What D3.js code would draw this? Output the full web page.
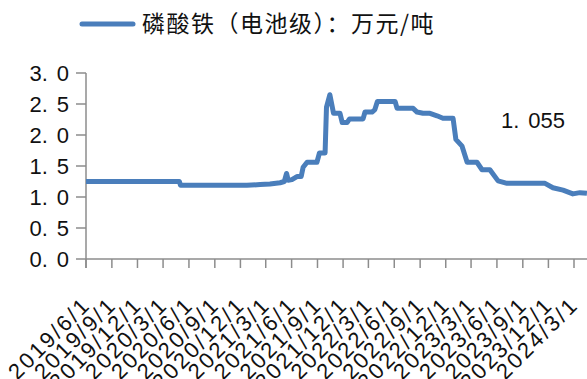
<!DOCTYPE html>
<html>
<head>
<meta charset="utf-8">
<script src="https://cdn.jsdelivr.net/npm/d3@7"></script>
<style>
html,body{margin:0;padding:0;background:#fff;}
svg{display:block;}
</style>
</head>
<body>
<svg id="chart" width="587" height="379"></svg>
<script>
const seriesName = "磷酸铁（电池级）：万元/吨";
const dates = [
"2019-06-01","2020-04-28","2020-05-02","2020-12-24","2021-02-09","2021-03-16","2021-04-21","2021-05-06",
"2021-05-14","2021-05-20","2021-06-02","2021-06-20","2021-07-05","2021-07-12","2021-07-26","2021-08-30",
"2021-09-08","2021-09-28","2021-10-03","2021-10-15","2021-10-28","2021-11-20","2021-11-28","2021-12-15",
"2021-12-24","2022-02-10","2022-02-17","2022-03-14","2022-03-24","2022-04-02","2022-06-04","2022-06-11",
"2022-08-07","2022-08-21","2022-09-11","2022-10-06","2022-10-31","2022-11-21","2022-12-27","2023-01-06",
"2023-01-28","2023-02-15","2023-03-22","2023-04-09","2023-05-07","2023-06-05","2023-07-07","2023-11-19",
"2023-12-17","2024-01-22","2024-02-26","2024-03-22","2024-04-16"
];
const values = [
1.25,1.25,1.19,1.19,1.20,1.21,1.23,1.25,
1.38,1.27,1.28,1.33,1.33,1.48,1.56,1.56,
1.71,1.71,2.45,2.65,2.35,2.35,2.20,2.20,
2.26,2.26,2.37,2.37,2.41,2.54,2.54,2.43,
2.43,2.37,2.35,2.35,2.31,2.27,2.27,1.93,
1.82,1.56,1.56,1.44,1.44,1.26,1.22,1.22,
1.15,1.11,1.05,1.07,1.06
];
const xTickLabels = ["2019/6/1","2019/9/1","2019/12/1","2020/3/1","2020/6/1","2020/9/1","2020/12/1","2021/3/1",
"2021/6/1","2021/9/1","2021/12/1","2022/3/1","2022/6/1","2022/9/1","2022/12/1","2023/3/1","2023/6/1","2023/9/1",
"2023/12/1","2024/3/1"];
const yTicks = [0,0.5,1.0,1.5,2.0,2.5,3.0];
const lastLabel = "1.055";

const parse = d3.timeParse("%Y-%m-%d");
const parseTick = d3.timeParse("%Y/%m/%d");
const data = dates.map((d,i)=>({date:parse(d), value:values[i]}));
const tickDates = xTickLabels.map(t=>parseTick(t));

const svg = d3.select("#chart");
const axisColor = "#8c8c8c";
const numFont = "'Liberation Sans', Arial, sans-serif";

const x = d3.scaleTime()
  .domain([parseTick("2019/6/1"), parseTick("2024/3/1")])
  .range([86, 574]);
const y = d3.scaleLinear().domain([0,3]).range([259,73]);

// legend
svg.append("line").attr("x1",82).attr("x2",133).attr("y1",24).attr("y2",24)
  .attr("stroke","#4a7ebb").attr("stroke-width",5).attr("stroke-linecap","round");
svg.append("text").attr("x",142).attr("y",32)
  .attr("font-family","'Noto Sans CJK SC', sans-serif").attr("font-size",23)
  .attr("letter-spacing",1.5).attr("fill","#111").text(seriesName);

function dotText(sel, str){
  const parts = str.split(".");
  sel.append("tspan").text(parts[0]+".");
  sel.append("tspan").attr("dx",9).text(parts[1]);
}

// y axis
const gy = svg.append("g");
gy.append("line").attr("x1",86).attr("x2",86).attr("y1",y(3)).attr("y2",y(0)+9)
  .attr("stroke",axisColor).attr("stroke-width",1.5);
yTicks.forEach(t=>{
  gy.append("line").attr("x1",76).attr("x2",86).attr("y1",y(t)).attr("y2",y(t))
    .attr("stroke",axisColor).attr("stroke-width",1.5);
  const tx = gy.append("text").attr("x",69).attr("y",y(t)+8)
    .attr("text-anchor","end").attr("font-family",numFont).attr("font-size",22).attr("fill","#111");
  dotText(tx, t.toFixed(1));
});

// x axis
const gx = svg.append("g");
gx.append("line").attr("x1",86).attr("x2",587).attr("y1",259).attr("y2",259)
  .attr("stroke",axisColor).attr("stroke-width",1.5);
tickDates.forEach((d,i)=>{
  const tx = x(d);
  gx.append("line").attr("x1",tx).attr("x2",tx).attr("y1",259).attr("y2",268)
    .attr("stroke",axisColor).attr("stroke-width",1.5);
  gx.append("text").attr("transform",`translate(${tx+6},306) rotate(-45)`)
    .attr("text-anchor","end").attr("font-family",numFont).attr("font-size",22)
    .attr("letter-spacing",2.5)
    .attr("fill","#111").text(xTickLabels[i]);
});

// line
const line = d3.line().x(d=>x(d.date)).y(d=>y(d.value));
svg.append("path").datum(data).attr("d",line).attr("fill","none")
  .attr("stroke","#4a7ebb").attr("stroke-width",5).attr("stroke-linejoin","round");

// annotation
const ann = svg.append("text").attr("x",565).attr("y",128).attr("text-anchor","end")
  .attr("font-family",numFont).attr("font-size",22).attr("fill","#111");
dotText(ann, lastLabel);
</script>
</body>
</html>
